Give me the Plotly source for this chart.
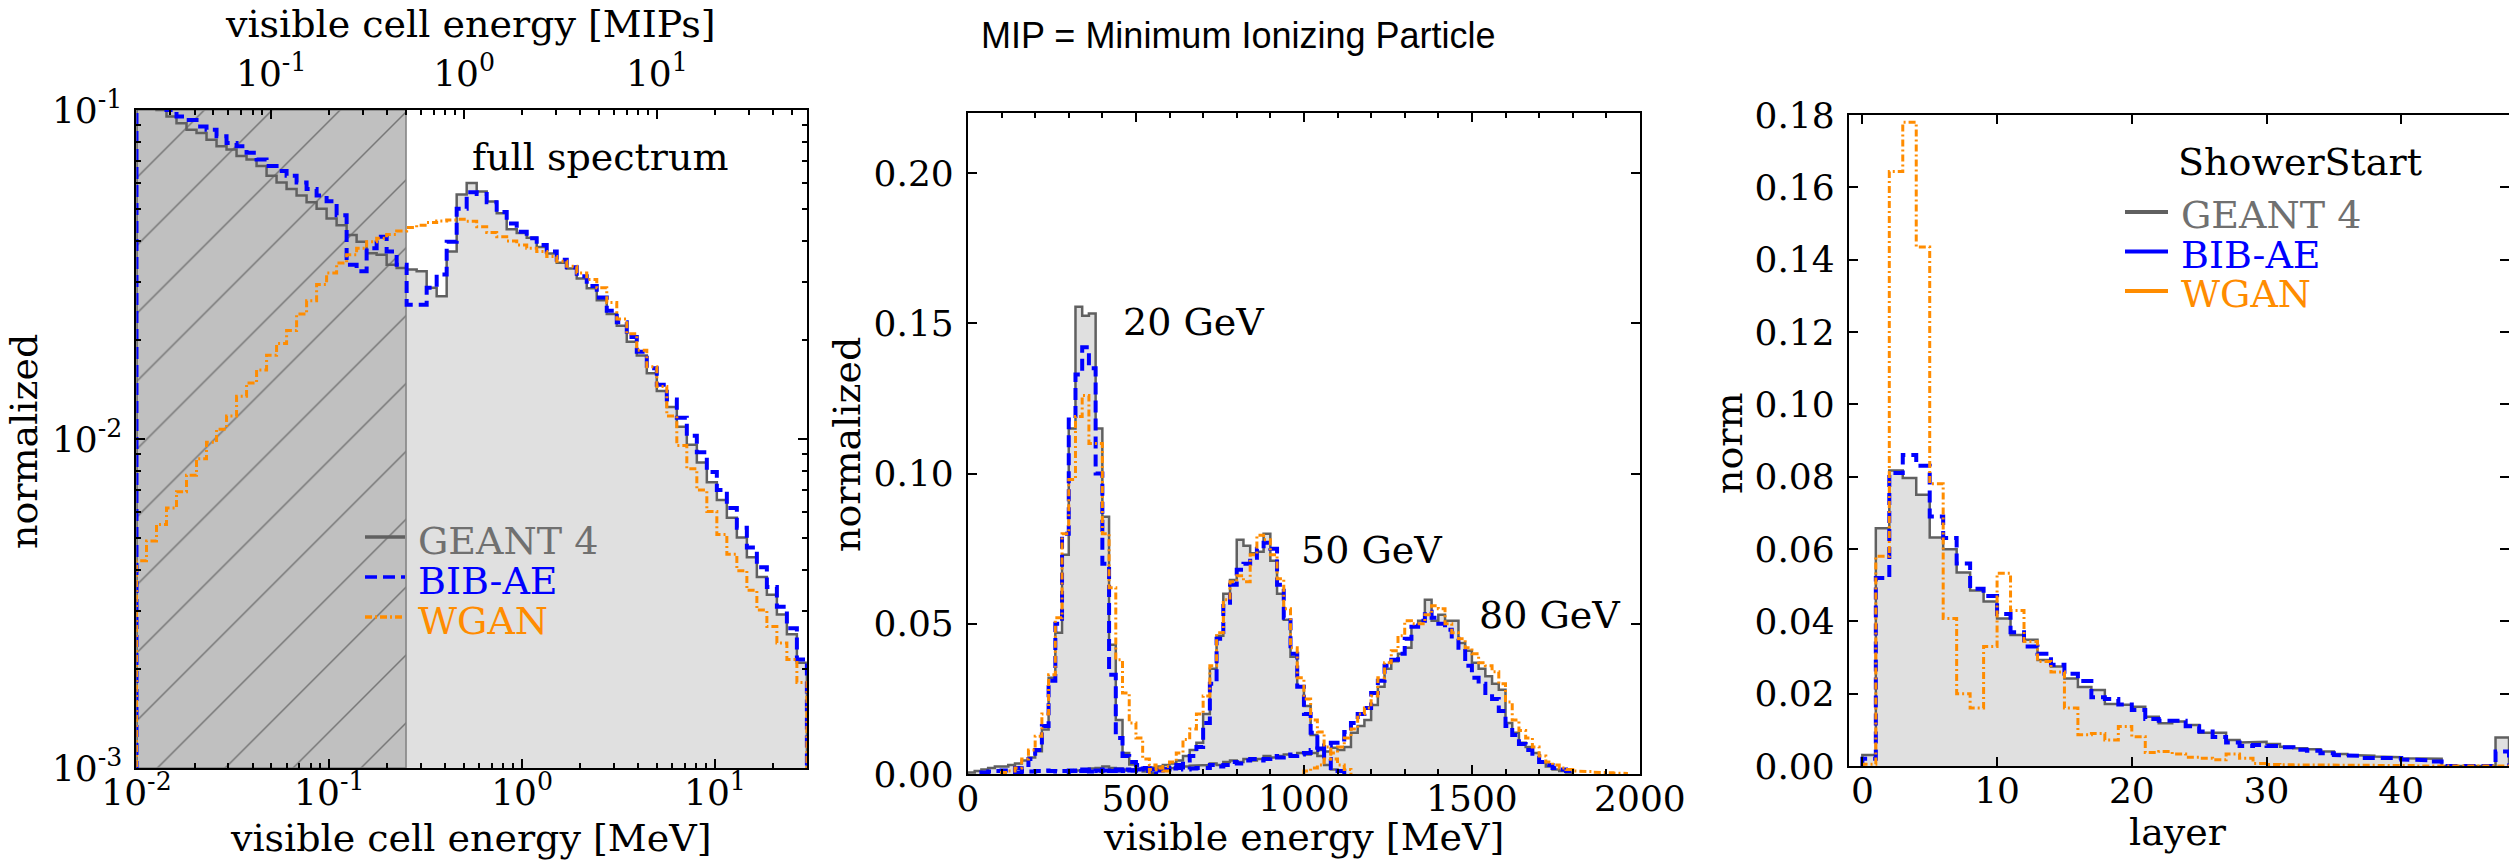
import numpy as np
import plotly.graph_objects as go

W, H = 2509, 865
SERIF = "DejaVu Serif"
SANS = "Liberation Sans, Arial, sans-serif"
C_G4 = "#606060"
C_G4_TXT = "#707070"
C_FILL = "#e0e0e0"
C_BIB = "#0000ff"
C_WGAN = "#ff8c00"
DASH_BIB = "12px,6px"
DASH_WGAN = "7px,3px,2px,3px"

# ---------------- Panel 1: visible cell energy spectrum (log-log) ----------------
CELL_E_MIN, CELL_E_MAX = 0.01, 30.0      # MeV
N_CELL_BINS = 67
MIP_MEV = 0.5                            # 1 MIP in MeV (top axis)
MIP_CUT_MEV = 0.25                       # hatched region upper edge
# log10(normalized) per bin
G4_CELL_LOG10 = [-0.96, -0.98, -1.00, -1.02, -1.04, -1.06, -1.07, -1.09, -1.11, -1.12,
                 -1.14, -1.15, -1.17, -1.20, -1.22, -1.24, -1.26, -1.28, -1.30, -1.33,
                 -1.35, -1.38, -1.40, -1.435, -1.44, -1.47, -1.48, -1.485, -1.49, -1.54,
                 -1.566, -1.43, -1.257, -1.222, -1.248, -1.278, -1.314, -1.362, -1.374, -1.388,
                 -1.416, -1.436, -1.464, -1.482, -1.512, -1.542, -1.578, -1.62, -1.656, -1.704,
                 -1.746, -1.80, -1.854, -1.903, -1.963, -2.017, -2.071, -2.131, -2.185, -2.239,
                 -2.299, -2.359, -2.419, -2.473, -2.533, -2.593, -2.68]
BIB_CELL_LOG10 = [-0.95, -0.97, -0.98, -1.00, -1.02, -1.03, -1.05, -1.06, -1.08, -1.10,
                  -1.11, -1.13, -1.15, -1.17, -1.185, -1.20, -1.22, -1.24, -1.26, -1.277,
                  -1.32, -1.47, -1.49, -1.42, -1.385, -1.43, -1.47, -1.592, -1.592, -1.54,
                  -1.50, -1.40, -1.30, -1.25, -1.255, -1.28, -1.31, -1.345, -1.37, -1.39,
                  -1.41, -1.43, -1.455, -1.478, -1.505, -1.535, -1.57, -1.61, -1.645, -1.69,
                  -1.735, -1.785, -1.835, -1.88, -1.935, -1.99, -2.04, -2.10, -2.155, -2.21,
                  -2.27, -2.33, -2.39, -2.45, -2.51, -2.575, -2.67]
WGAN_CELL_LOG10 = [-2.37, -2.31, -2.26, -2.21, -2.16, -2.11, -2.06, -2.01, -1.97, -1.93,
                   -1.87, -1.83, -1.79, -1.745, -1.71, -1.67, -1.62, -1.58, -1.53, -1.495,
                   -1.465, -1.44, -1.42, -1.40, -1.39, -1.378, -1.368, -1.357, -1.35, -1.342,
                   -1.337, -1.334, -1.332, -1.338, -1.355, -1.372, -1.385, -1.398, -1.41, -1.42,
                   -1.43, -1.445, -1.46, -1.475, -1.495, -1.515, -1.54, -1.585, -1.635, -1.68,
                   -1.73, -1.78, -1.84, -1.93, -2.02, -2.09, -2.155, -2.22, -2.29, -2.35,
                   -2.40, -2.46, -2.52, -2.57, -2.62, -2.67, -2.74]

# ---------------- Panel 2: visible energy for 20/50/80 GeV ----------------
E_BIN = 20  # MeV
G4_20GEV_START = 0
G4_20GEV = [0.0005, 0.001, 0.0015, 0.002, 0.0025, 0.0025, 0.003, 0.0035, 0.0045, 0.0055,
            0.0076, 0.0148, 0.032, 0.047, 0.073, 0.115, 0.1555, 0.1525, 0.1533, 0.115,
            0.0856, 0.043, 0.018, 0.007, 0.0032, 0.0015, 0.0008, 0.0004]
BIB_20GEV_START = 40
BIB_20GEV = [0.0005, 0.0008, 0.001, 0.0012, 0.0015, 0.002, 0.003, 0.005, 0.008, 0.016,
             0.031, 0.05, 0.08, 0.118, 0.133, 0.142, 0.135, 0.10, 0.07, 0.033,
             0.012, 0.006, 0.004, 0.003, 0.002, 0.001]
WGAN_20GEV_START = 100
WGAN_20GEV = [0.0005, 0.001, 0.002, 0.005, 0.008, 0.0126, 0.02, 0.033, 0.052, 0.08,
              0.098, 0.119, 0.126, 0.11, 0.11, 0.08, 0.062, 0.038, 0.027, 0.017,
              0.012, 0.005, 0.003, 0.002, 0.001]
G4_50GEV_START = 300
G4_50GEV = [0.001, 0.0012, 0.0015, 0.0018, 0.002, 0.0025, 0.002, 0.0018, 0.0015, 0.0015,
            0.0018, 0.002, 0.0022, 0.0025, 0.003, 0.0035, 0.0045, 0.006, 0.008, 0.0104,
            0.02, 0.035, 0.046, 0.06, 0.0646, 0.078, 0.076, 0.0735, 0.074, 0.080,
            0.071, 0.060, 0.0513, 0.039, 0.029, 0.0226, 0.013, 0.006, 0.003, 0.0015, 0.0008]
BIB_50GEV_START = 300
BIB_50GEV = [0.001, 0.0012, 0.001, 0.0008, 0.001, 0.0012, 0.001, 0.0015, 0.001, 0.0012,
             0.0015, 0.001, 0.0015, 0.0018, 0.0015, 0.002, 0.003, 0.0045, 0.006, 0.009,
             0.017, 0.03, 0.045, 0.057, 0.063, 0.068, 0.070, 0.072, 0.075, 0.077,
             0.075, 0.063, 0.052, 0.04, 0.029, 0.02, 0.0137, 0.009, 0.005, 0.002, 0.001]
WGAN_50GEV_START = 540
WGAN_50GEV = [0.0015, 0.002, 0.0025, 0.004, 0.007, 0.0115, 0.015, 0.02, 0.026, 0.036,
              0.047, 0.058, 0.064, 0.066, 0.064, 0.073, 0.0795, 0.078, 0.073, 0.065,
              0.055, 0.042, 0.032, 0.025, 0.018, 0.014, 0.009, 0.005, 0.003, 0.0015]
G4_80GEV_START = 400
G4_80GEV = [0.001, 0.0012, 0.001, 0.0012, 0.0015, 0.0015, 0.0015, 0.0018, 0.002, 0.0018,
            0.002, 0.0022, 0.0025, 0.0028, 0.003,
            0.003, 0.0035, 0.003, 0.004, 0.0045, 0.004, 0.005, 0.0045, 0.005, 0.006,
            0.0055, 0.006, 0.0065, 0.006, 0.007, 0.0065, 0.007, 0.008, 0.0075, 0.0087,
            0.008, 0.009,
            0.0137, 0.016, 0.018, 0.023, 0.029, 0.035, 0.0375, 0.040, 0.042, 0.049,
            0.051, 0.058, 0.051, 0.053, 0.051, 0.051, 0.0436, 0.041, 0.037, 0.035,
            0.0325, 0.030, 0.028, 0.017, 0.0137, 0.0104, 0.009, 0.007, 0.0038, 0.0025,
            0.0015, 0.001, 0.0005]
BIB_80GEV_START = 140
BIB_80GEV = [0.0005, 0.001, 0.0008, 0.001, 0.0012, 0.001, 0.0008, 0.001, 0.0012, 0.001,
             0.0015, 0.001, 0.0012, 0.0015, 0.001, 0.0012, 0.0015, 0.0012, 0.0015, 0.0018,
             0.0015, 0.0012, 0.0015, 0.0018, 0.002, 0.0015, 0.0018, 0.002,
             0.002, 0.003, 0.0025, 0.003, 0.004, 0.0035, 0.0045, 0.005, 0.0045, 0.005,
             0.006, 0.0055, 0.0065, 0.006, 0.0065, 0.007, 0.008, 0.0085, 0.0095, 0.0104, 0.0115,
             0.014, 0.017, 0.020, 0.022, 0.027, 0.031, 0.036, 0.038, 0.040, 0.045,
             0.049, 0.051, 0.054, 0.052, 0.050, 0.048, 0.045, 0.042, 0.036, 0.032,
             0.030, 0.027, 0.025, 0.021, 0.016, 0.013, 0.010, 0.008, 0.006, 0.004,
             0.003, 0.002, 0.0015, 0.001]
WGAN_80GEV_START = 1000
WGAN_80GEV = [0.001, 0.002, 0.003, 0.005, 0.007, 0.009, 0.012, 0.015, 0.020, 0.022,
              0.026, 0.032, 0.037, 0.041, 0.046, 0.051, 0.050, 0.050, 0.053, 0.056,
              0.055, 0.050, 0.047, 0.045, 0.042, 0.040, 0.037, 0.036, 0.034, 0.030,
              0.024, 0.018, 0.0145, 0.012, 0.009, 0.006, 0.004, 0.003, 0.002, 0.0015,
              0.001, 0.001, 0.0008, 0.0006, 0.0005, 0.0004, 0.0003, 0.0002]
ENERGY_LABELS = ["20 GeV", "50 GeV", "80 GeV"]

# ---------------- Panel 3: shower start layer ----------------
N_LAYERS = 48
G4_LAYER = [0.003, 0.0657, 0.0817, 0.0796, 0.075, 0.0632, 0.0599, 0.0535, 0.0485, 0.0455,
            0.0408, 0.0362, 0.0349, 0.0293, 0.0275, 0.0242, 0.0218, 0.021, 0.0171, 0.0169,
            0.0164, 0.0136, 0.0118, 0.0123, 0.0113, 0.0092, 0.0092, 0.0072, 0.0065, 0.0067,
            0.0061, 0.0053, 0.0049, 0.0046, 0.004, 0.0033, 0.003, 0.0028, 0.0026, 0.0024,
            0.0021, 0.0021, 0.002, 0, 0, 0, 0, 0.0079]
BIB_LAYER = [0.002, 0.052, 0.081, 0.086, 0.083, 0.069, 0.063, 0.056, 0.049, 0.047,
             0.042, 0.037, 0.033, 0.031, 0.028, 0.0255, 0.0235, 0.019, 0.0185, 0.017,
             0.0155, 0.013, 0.0125, 0.0125, 0.011, 0.0095, 0.008, 0.0065, 0.0055, 0.0058,
             0.0055, 0.0052, 0.0045, 0.0042, 0.0035, 0.003, 0.0028, 0.0022, 0.0022, 0.0022,
             0.0018, 0.0016, 0.0012, 0, 0, 0, 0, 0.004]
WGAN_LAYER = [0.0005, 0.058, 0.1644, 0.178, 0.1435, 0.078, 0.0408, 0.020, 0.016, 0.033,
              0.0533, 0.043, 0.0344, 0.0289, 0.026, 0.016, 0.0086, 0.009, 0.0072, 0.0109,
              0.0081, 0.0037, 0.004, 0.0033, 0.0024, 0.0021, 0.0017, 0.0033, 0.0021, 0.0007,
              0.0004, 0.0003, 0.0003, 0.0002, 0.0002, 0.0002, 0.0001, 0.0001, 0.0001, 0.0001,
              0.0001, 0, 0, 0, 0, 0, 0, 0]

LEGEND_NAMES = ["GEANT 4", "BIB-AE", "WGAN"]


def step_xy(edges, vals, floor):
    xs, ys = [edges[0]], [floor]
    for i, v in enumerate(vals):
        xs += [edges[i], edges[i + 1]]
        ys += [v, v]
    xs.append(edges[-1])
    ys.append(floor)
    return xs, ys


def px(x):
    return x / W


def py(y):
    return 1 - y / H


fig = go.Figure()
STYLES = [(C_G4, 2.5, "solid"), (C_BIB, 4, DASH_BIB), (C_WGAN, 3, DASH_WGAN)]

# ---- panel 1 traces
edges1 = np.logspace(np.log10(CELL_E_MIN), np.log10(CELL_E_MAX), N_CELL_BINS + 1)
g4_1 = 10 ** np.array(G4_CELL_LOG10)
bib_1 = 10 ** np.array(BIB_CELL_LOG10)
wgan_1 = 10 ** np.array(WGAN_CELL_LOG10)
FLOOR1 = 1e-4
xs, ys = step_xy(edges1, g4_1, FLOOR1)
fig.add_trace(go.Scatter(x=xs, y=ys, mode="none", fill="toself", fillcolor=C_FILL,
                         xaxis="x", yaxis="y", hoverinfo="skip", showlegend=False))
# hatched region (below MIP cut)
fig.add_trace(go.Scatter(x=[CELL_E_MIN, MIP_CUT_MEV, MIP_CUT_MEV, CELL_E_MIN, CELL_E_MIN],
                         y=[1e-3, 1e-3, 1e-1, 1e-1, 1e-3], mode="lines",
                         line=dict(color="#808080", width=1.5), fill="toself",
                         fillcolor="#c0c0c0",
                         fillpattern=dict(shape="/", size=48, solidity=0.03,
                                          fgcolor="#757575", bgcolor="#c0c0c0",
                                          fillmode="replace"),
                         xaxis="x", yaxis="y", hoverinfo="skip", showlegend=False))
for vals, (col, wid, dash) in zip([g4_1, bib_1, wgan_1], STYLES):
    xs, ys = step_xy(edges1, vals, FLOOR1)
    fig.add_trace(go.Scatter(x=xs, y=ys, mode="lines", line=dict(color=col, width=wid, dash=dash),
                             xaxis="x", yaxis="y", hoverinfo="skip", showlegend=False))
# invisible trace to activate top MIP axis
fig.add_trace(go.Scatter(x=[CELL_E_MIN / MIP_MEV, CELL_E_MAX / MIP_MEV], y=[1e-3, 1e-3],
                         mode="markers", marker=dict(opacity=0), xaxis="x4", yaxis="y",
                         hoverinfo="skip", showlegend=False))

# ---- panel 2 traces
def edges_from(start, n):
    return start + E_BIN * np.arange(n + 1)

g4_sets = [(G4_20GEV_START, G4_20GEV), (G4_50GEV_START, G4_50GEV), (G4_80GEV_START, G4_80GEV)]
bib_sets = [(BIB_20GEV_START, BIB_20GEV), (BIB_50GEV_START, BIB_50GEV), (BIB_80GEV_START, BIB_80GEV)]
wgan_sets = [(WGAN_20GEV_START, WGAN_20GEV), (WGAN_50GEV_START, WGAN_50GEV), (WGAN_80GEV_START, WGAN_80GEV)]
for st, vals in g4_sets:
    xs, ys = step_xy(edges_from(st, len(vals)), vals, 0)
    fig.add_trace(go.Scatter(x=xs, y=ys, mode="none", fill="toself", fillcolor=C_FILL,
                             xaxis="x2", yaxis="y2", hoverinfo="skip", showlegend=False))
for sets, (col, wid, dash) in zip([g4_sets, bib_sets, wgan_sets], STYLES):
    for st, vals in sets:
        xs, ys = step_xy(edges_from(st, len(vals)), vals, 0)
        fig.add_trace(go.Scatter(x=xs, y=ys, mode="lines",
                                 line=dict(color=col, width=wid, dash=dash),
                                 xaxis="x2", yaxis="y2", hoverinfo="skip", showlegend=False))

# ---- panel 3 traces
edges3 = np.arange(N_LAYERS + 1)
xs, ys = step_xy(edges3, G4_LAYER, 0)
fig.add_trace(go.Scatter(x=xs, y=ys, mode="none", fill="toself", fillcolor=C_FILL,
                         xaxis="x3", yaxis="y3", hoverinfo="skip", showlegend=False))
for vals, (col, wid, dash) in zip([G4_LAYER, BIB_LAYER, WGAN_LAYER], STYLES):
    xs, ys = step_xy(edges3, vals, 0)
    fig.add_trace(go.Scatter(x=xs, y=ys, mode="lines", line=dict(color=col, width=wid, dash=dash),
                             xaxis="x3", yaxis="y3", hoverinfo="skip", showlegend=False))

# ---------------- axes ----------------
TICKFONT = dict(family=SERIF, size=36, color="black")
base = dict(showline=True, linecolor="black", linewidth=2, ticks="inside", ticklen=9,
            tickwidth=1.5, tickcolor="black", showgrid=False, zeroline=False,
            tickfont=TICKFONT, ticklabelstandoff=5, automargin=False)
XSO = -8   # x tick label standoff


def log_minor(lo, hi):
    return [k * 10.0 ** n for n in range(lo, hi) for k in range(2, 10)]


def sup(n):
    return "10<sup>%d</sup>" % n

D1 = [0.0544, 0.3216]
D2 = [0.3858, 0.6536]
D3 = [0.7369, 1.0]
fig.update_layout(
    xaxis=dict(base, type="log", domain=D1, anchor="y", range=[np.log10(CELL_E_MIN), np.log10(CELL_E_MAX)],
               tickmode="array", tickvals=[0.01, 0.1, 1, 10], ticktext=[sup(-2), sup(-1), sup(0), sup(1)],
               mirror=False, ticklabelstandoff=XSO,
               minor=dict(ticks="inside", ticklen=5, tickcolor="black", tickmode="array",
                          tickvals=log_minor(-2, 2))),
    xaxis4=dict(base, type="log", overlaying="x", side="top", anchor="y",
                range=[np.log10(CELL_E_MIN / MIP_MEV), np.log10(CELL_E_MAX / MIP_MEV)],
                tickmode="array", tickvals=[0.1, 1, 10], ticktext=[sup(-1), sup(0), sup(1)],
                mirror=False, ticklabelstandoff=8,
                minor=dict(ticks="inside", ticklen=5, tickcolor="black", tickmode="array",
                           tickvals=log_minor(-2, 2))),
    yaxis=dict(base, type="log", domain=[0.1121, 0.8728], anchor="x", range=[-3, -1],
               tickmode="array", tickvals=[0.001, 0.01, 0.1], ticktext=[sup(-3), sup(-2), sup(-1)],
               mirror="ticks",
               minor=dict(ticks="inside", ticklen=5, tickcolor="black", tickmode="array",
                          tickvals=log_minor(-3, -1))),
    xaxis2=dict(base, domain=D2, anchor="y2", range=[0, 2000], dtick=500, tick0=0, mirror="ticks",
                ticklabelstandoff=XSO,
                minor=dict(ticks="inside", ticklen=5, tickcolor="black", dtick=100)),
    yaxis2=dict(base, domain=[0.1052, 0.8694], anchor="x2", range=[0, 0.22], dtick=0.05, tick0=0,
                tickformat=".2f", mirror="ticks"),
    xaxis3=dict(base, domain=D3, anchor="y3", range=[-1, 48], dtick=10, tick0=0, mirror="ticks",
                ticklabelstandoff=XSO),
    yaxis3=dict(base, domain=[0.1145, 0.8671], anchor="x3", range=[0, 0.18], dtick=0.02, tick0=0,
                tickformat=".2f", mirror="ticks"),
    width=W, height=H, margin=dict(l=0, r=0, t=0, b=0, autoexpand=False),
    paper_bgcolor="white", plot_bgcolor="white", showlegend=False,
)

# ---------------- texts ----------------
TF = dict(family=SERIF, size=38, color="black")
ann = []


def text(x, y, s, font=TF, xanchor="center", angle=0):
    ann.append(dict(x=px(x), y=py(y), xref="paper", yref="paper", text=s, showarrow=False,
                    font=font, xanchor=xanchor, yanchor="middle", textangle=angle))

# axis titles
text(471, 838, "visible cell energy [MeV]")
text(471, 24, "visible cell energy [MIPs]")
text(24, 442, "normalized", angle=-90)
text(1303, 837, "visible energy [MeV]")
text(847, 445, "normalized", angle=-90)
text(2178, 832, "layer")
text(1729, 443, "norm", angle=-90)
text(1238, 36, "MIP = Minimum Ionizing Particle", font=dict(family=SANS, size=36, color="black"))
# in-plot labels
text(600, 157, "full spectrum")
for (xc, yc), lab in zip([(1193, 322), (1371, 550), (1549, 615)], ENERGY_LABELS):
    text(xc, yc, lab)
text(2300, 162, "ShowerStart")

shapes = []
leg_cols = [C_G4_TXT, C_BIB, C_WGAN]
# panel 1 legend
for i, (nm, tc, (lc, _, ds)) in enumerate(zip(LEGEND_NAMES, leg_cols, STYLES)):
    yl = 537 + 40 * i
    shapes.append(dict(type="line", xref="paper", yref="paper", x0=px(365), x1=px(405),
                       y0=py(yl), y1=py(yl), line=dict(color=lc, width=3.5, dash=ds)))
    text(416, yl + 4, nm, font=dict(family=SERIF, size=38, color=tc), xanchor="left")
# panel 3 legend
for i, (nm, tc, (lc, _, _)) in enumerate(zip(LEGEND_NAMES, leg_cols, STYLES)):
    yl = 212 + 39.5 * i
    shapes.append(dict(type="line", xref="paper", yref="paper", x0=px(2125), x1=px(2168),
                       y0=py(yl), y1=py(yl), line=dict(color=lc, width=4)))
    text(2179, yl + 3, nm, font=dict(family=SERIF, size=38, color=tc), xanchor="left")

fig.update_layout(annotations=ann, shapes=shapes)
fig.write_html("out.html")
